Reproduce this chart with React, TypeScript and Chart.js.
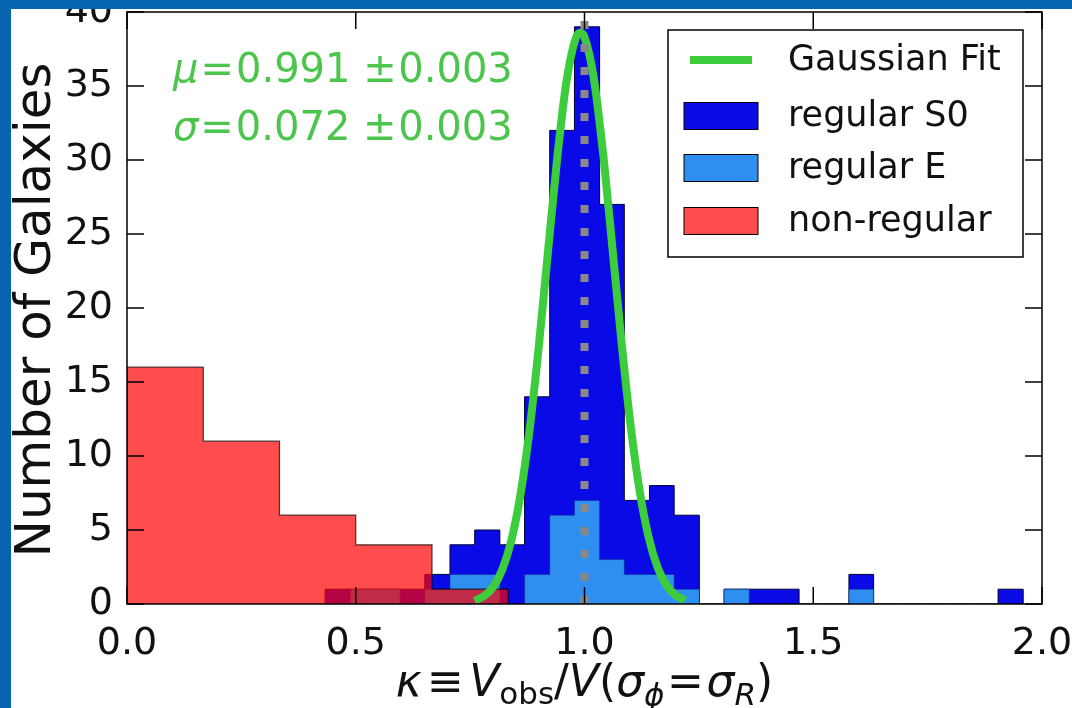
import React, { useEffect, useRef } from 'react';
import { Chart, registerables } from 'chart.js';

Chart.register(...registerables);

const FONT = "'DejaVu Sans', 'Noto Sans', sans-serif";

// axis ticks
const xTickValues = [0, 0.5, 1.0, 1.5, 2.0];
const yTickValues = [0, 5, 10, 15, 20, 25, 30, 35, 40];

// non-regular galaxies histogram (bin edges, counts)
const nonRegularEdges = [0, 0.1667, 0.3333, 0.5, 0.6667, 0.8333];
const nonRegularCounts = [16, 11, 6, 4, 1];

// regular galaxies histogram: shared bin edges, E and S0 counts (stacked: E bottom, S0 on top)
const regularEdges = [
  0.433, 0.488, 0.542, 0.597, 0.651, 0.706, 0.76, 0.815, 0.869, 0.924, 0.978, 1.033, 1.087, 1.142,
  1.196, 1.251, 1.305, 1.36, 1.414, 1.469, 1.523, 1.578, 1.632, 1.687, 1.741, 1.796, 1.85, 1.904, 1.959,
];
const regularECounts = [0, 1, 1, 0, 1, 2, 2, 0, 2, 6, 7, 3, 2, 2, 1, 0, 1, 0, 0, 0, 0, 1, 0, 0, 0, 0, 0, 0];
const regularS0Counts = [1, 0, 0, 1, 1, 2, 3, 4, 12, 26, 32, 24, 5, 6, 5, 0, 0, 1, 1, 0, 0, 1, 0, 0, 0, 0, 0, 1];

// Gaussian fit curve
const gaussX = [0.76, 0.78, 0.8, 0.82, 0.84, 0.86, 0.88, 0.9, 0.92, 0.94, 0.96, 0.98, 0.991, 1.0, 1.02, 1.04, 1.06, 1.08, 1.1, 1.12, 1.14, 1.16, 1.18, 1.2, 1.22];
const gaussY = [0.22, 0.53, 1.14, 2.3, 4.28, 7.38, 11.77, 17.37, 23.74, 30.03, 35.18, 38.15, 38.6, 38.3, 35.59, 30.62, 24.39, 17.98, 12.27, 7.75, 4.54, 2.46, 1.23, 0.57, 0.25];

const referenceKappa = [1.0];
const fitMu = ['0.991', '0.003'];
const fitSigma = ['0.072', '0.003'];

const legendLabels = ['Gaussian Fit', 'regular S0', 'regular E', 'non-regular'];

const C_S0 = '#0a0ae6';
const C_E = '#2e8ff0';
const C_RED = 'rgba(255,0,0,0.7)';
const C_GREEN = '#3ccc3c';
const C_TEXTGREEN = '#4cc54c';
const C_FRAME = '#0764ae';

function histPoints(edges: number[], counts: number[]) {
  const pts: { x: number; y: number }[] = [{ x: edges[0], y: 0 }];
  counts.forEach((c, i) => pts.push({ x: edges[i], y: c }));
  pts.push({ x: edges[edges.length - 1], y: 0 });
  return pts;
}

type Run = { t: string; italic?: boolean; scale?: number; dy?: number; padL?: number; padR?: number };

function drawRuns(ctx: CanvasRenderingContext2D, runs: Run[], x: number, y: number, size: number, align: 'left' | 'center', color: string) {
  const fontFor = (r: Run) => `${r.italic ? 'italic ' : ''}${Math.round(size * (r.scale ?? 1))}px ${FONT}`;
  let total = 0;
  const widths = runs.map((r) => {
    ctx.font = fontFor(r);
    const w = ctx.measureText(r.t).width + ((r.padL ?? 0) + (r.padR ?? 0)) * size;
    total += w;
    return w;
  });
  let cx = align === 'center' ? x - total / 2 : x;
  ctx.fillStyle = color;
  ctx.textBaseline = 'alphabetic';
  ctx.textAlign = 'left';
  runs.forEach((r, i) => {
    ctx.font = fontFor(r);
    ctx.fillText(r.t, cx + (r.padL ?? 0) * size, y + (r.dy ?? 0) * size);
    cx += widths[i];
  });
}

const decor = {
  id: 'decor',
  beforeDraw(chart: any) {
    const { ctx, width, height } = chart;
    ctx.save();
    ctx.fillStyle = '#ffffff';
    ctx.fillRect(0, 0, width, height);
    ctx.restore();
  },
  afterDatasetsDraw(chart: any) {
    const { ctx, chartArea } = chart;
    const xs = chart.scales.x;
    const ys = chart.scales.y;
    const L = 17;
    ctx.save();
    ctx.strokeStyle = '#000';
    ctx.lineWidth = 1.5;
    ctx.beginPath();
    xTickValues.forEach((v) => {
      const px = xs.getPixelForValue(v);
      ctx.moveTo(px, chartArea.bottom);
      ctx.lineTo(px, chartArea.bottom - L);
      ctx.moveTo(px, chartArea.top);
      ctx.lineTo(px, chartArea.top + L);
    });
    yTickValues.forEach((v) => {
      const py = ys.getPixelForValue(v);
      ctx.moveTo(chartArea.left, py);
      ctx.lineTo(chartArea.left + L, py);
      ctx.moveTo(chartArea.right, py);
      ctx.lineTo(chartArea.right - L, py);
    });
    ctx.stroke();
    ctx.strokeRect(chartArea.left, chartArea.top, chartArea.right - chartArea.left, chartArea.bottom - chartArea.top);
    ctx.restore();
  },
  afterDraw(chart: any) {
    const { ctx, chartArea, width, height } = chart;
    ctx.save();

    // legend
    const bx = 668, by = 30, bw = 355, bh = 227;
    ctx.fillStyle = '#fff';
    ctx.fillRect(bx, by, bw, bh);
    ctx.strokeStyle = '#000';
    ctx.lineWidth = 1.5;
    ctx.strokeRect(bx, by, bw, bh);
    const rows = [60, 116, 168, 221];
    ctx.strokeStyle = C_GREEN;
    ctx.lineWidth = 8;
    ctx.beginPath();
    ctx.moveTo(690, rows[0]);
    ctx.lineTo(752, rows[0]);
    ctx.stroke();
    const patchColors = [C_S0, C_E, C_RED];
    patchColors.forEach((c, i) => {
      const cy = rows[i + 1];
      ctx.fillStyle = c;
      ctx.fillRect(684, cy - 13.5, 74, 27);
      ctx.strokeStyle = '#000';
      ctx.lineWidth = 1;
      ctx.strokeRect(684, cy - 13.5, 74, 27);
    });
    ctx.fillStyle = '#111';
    ctx.font = `35px ${FONT}`;
    ctx.textAlign = 'left';
    ctx.textBaseline = 'middle';
    legendLabels.forEach((t, i) => ctx.fillText(t, 788, rows[i] + 1));

    // fit annotation
    drawRuns(ctx, [
      { t: 'μ', italic: true },
      { t: '=', padL: 0.05, padR: 0.05 },
      { t: fitMu[0] + ' ' },
      { t: '±', padR: 0.04 },
      { t: fitMu[1] },
    ], 173, 82, 40, 'left', C_TEXTGREEN);
    drawRuns(ctx, [
      { t: 'σ', italic: true },
      { t: '=', padL: 0.05, padR: 0.05 },
      { t: fitSigma[0] + ' ' },
      { t: '±', padR: 0.04 },
      { t: fitSigma[1] },
    ], 173, 140, 40, 'left', C_TEXTGREEN);

    // x axis title
    const cxm = (chartArea.left + chartArea.right) / 2;
    drawRuns(ctx, [
      { t: 'κ', italic: true },
      { t: '≡', padL: 0.12, padR: 0.12 },
      { t: 'V', italic: true },
      { t: 'obs', scale: 0.7, dy: 0.18 },
      { t: '/' },
      { t: 'V', italic: true },
      { t: '(' },
      { t: 'σ', italic: true },
      { t: 'ϕ', italic: true, scale: 0.7, dy: 0.22 },
      { t: '=', padL: 0.06, padR: 0.06 },
      { t: 'σ', italic: true },
      { t: 'R', italic: true, scale: 0.7, dy: 0.2 },
      { t: ')' },
    ], cxm, 696, 44, 'center', '#111');

    // y axis title
    ctx.save();
    ctx.translate(50, (chartArea.top + chartArea.bottom) / 2 + 2);
    ctx.rotate(-Math.PI / 2);
    ctx.fillStyle = '#111';
    ctx.font = `50px ${FONT}`;
    ctx.textAlign = 'center';
    ctx.textBaseline = 'alphabetic';
    ctx.fillText('Number of Galaxies', 0, 0);
    ctx.restore();

    // blue frame
    ctx.fillStyle = C_FRAME;
    ctx.fillRect(0, 0, width, 9);
    ctx.fillRect(0, 0, 11, height);
    ctx.restore();
  },
};

export default function App() {
  const ref = useRef<HTMLCanvasElement | null>(null);
  useEffect(() => {
    if (!ref.current) return;
    const totalCounts = regularS0Counts.map((s, i) => s + regularECounts[i]);
    const chart = new Chart(ref.current, {
      type: 'line',
      data: {
        datasets: [
          {
            label: 'ref',
            data: [
              { x: referenceKappa[0], y: 0 },
              { x: referenceKappa[0], y: 40 },
            ],
            borderColor: '#888888',
            borderWidth: 8,
            borderDash: [8, 15],
            pointRadius: 0,
            fill: false,
            order: 0,
          } as any,
          {
            label: 'Gaussian Fit',
            data: gaussX.map((x, i) => ({ x, y: gaussY[i] })),
            borderColor: C_GREEN,
            borderWidth: 8,
            pointRadius: 0,
            fill: false,
            tension: 0.4,
            cubicInterpolationMode: 'monotone',
            order: 1,
          } as any,
          {
            label: 'non-regular',
            data: histPoints(nonRegularEdges, nonRegularCounts),
            stepped: true,
            borderColor: 'rgba(0,0,0,0.7)',
            borderWidth: 1.2,
            backgroundColor: C_RED,
            pointRadius: 0,
            fill: 'origin',
            order: 2,
          } as any,
          {
            label: 'regular E',
            data: histPoints(regularEdges, regularECounts),
            stepped: true,
            borderColor: 'rgba(10,40,120,0.5)',
            borderWidth: 1,
            backgroundColor: C_E,
            pointRadius: 0,
            fill: 'origin',
            order: 3,
          } as any,
          {
            label: 'regular S0',
            data: histPoints(regularEdges, totalCounts),
            stepped: true,
            borderColor: '#000033',
            borderWidth: 1,
            backgroundColor: C_S0,
            pointRadius: 0,
            fill: 'origin',
            order: 4,
          } as any,
        ],
      },
      options: {
        animation: false,
        responsive: true,
        maintainAspectRatio: false,
        layout: { padding: { left: 0, right: 30, top: 12, bottom: 0 }, autoPadding: false } as any,
        plugins: { legend: { display: false }, tooltip: { enabled: false } },
        scales: {
          x: {
            type: 'linear',
            min: 0,
            max: 2,
            afterFit: (s: any) => {
              s.height = 104;
              s.paddingLeft = 0;
              s.paddingRight = 0;
            },
            afterBuildTicks: (s: any) => {
              s.ticks = xTickValues.map((v) => ({ value: v }));
            },
            ticks: {
              callback: (v: any) => Number(v).toFixed(1),
              font: { family: FONT, size: 38 },
              color: '#111',
              padding: 9,
              maxRotation: 0,
              autoSkip: false,
            },
            grid: { display: false },
            border: { display: false },
          },
          y: {
            type: 'linear',
            min: 0,
            max: 40,
            afterFit: (s: any) => {
              s.width = 127;
              s.paddingTop = 0;
              s.paddingBottom = 0;
            },
            afterBuildTicks: (s: any) => {
              s.ticks = yTickValues.map((v) => ({ value: v }));
            },
            ticks: {
              callback: (v: any) => String(v),
              font: { family: FONT, size: 38 },
              color: '#111',
              padding: 6,
              autoSkip: false,
            },
            grid: { display: false },
            border: { display: false },
          },
        },
      },
      plugins: [decor],
    });
    return () => chart.destroy();
  }, []);
  return (
    <div style={{ position: 'absolute', left: 0, top: 0, width: 1072, height: 708 }}>
      <canvas ref={ref} />
    </div>
  );
}
